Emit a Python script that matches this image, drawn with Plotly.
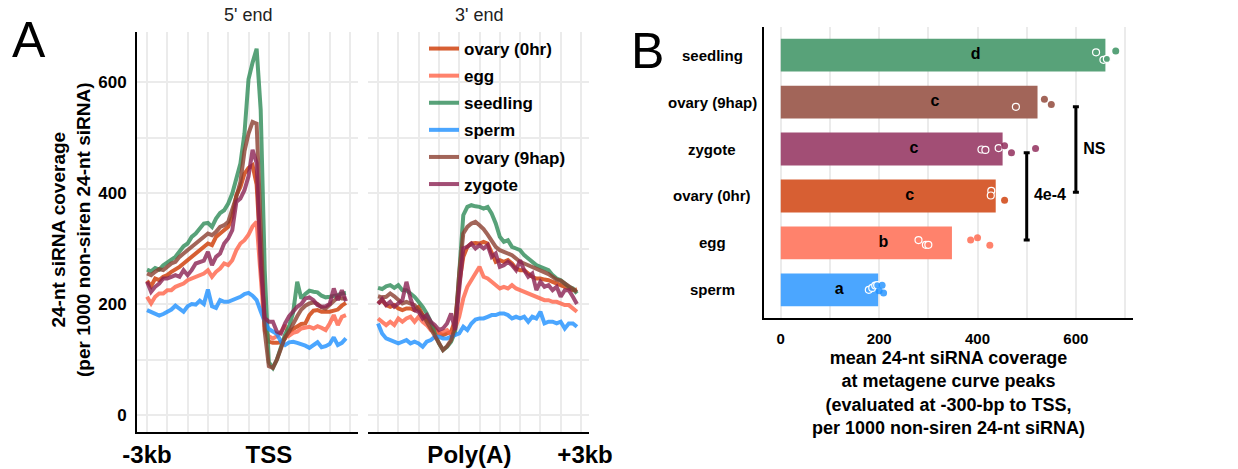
import plotly.graph_objects as go

W, H = 1238, 469
FONT = "Liberation Sans, Arial, sans-serif"

# ---------------- Panel A data ----------------
series_names = ["ovary (0hr)", "egg", "seedling", "sperm", "ovary (9hap)", "zygote"]
series_rgb = [(205, 55, 0), (255, 99, 71), (46, 139, 87), (30, 144, 255), (139, 62, 47), (139, 34, 82)]

pos_5p = list(range(-3000, 2000, 100))   # bp relative to TSS
pos_3p = list(range(-2000, 3000, 100))   # bp relative to Poly(A)

ovary0_5p = [242, 232, 246, 243, 249, 252, 258, 262, 267, 273,
             279, 285, 289, 297, 303, 309, 306, 321, 327, 333,
             339, 357, 396, 411, 435, 445, 450, 415, 290, 160,
             132, 130, 130, 131, 138, 150, 155, 160, 164, 165,
             180, 188, 189, 186, 186, 186, 188, 190, 197, 202]
egg_5p = [213, 201, 213, 219, 219, 225, 225, 231, 234, 237,
          243, 246, 249, 252, 255, 261, 249, 258, 264, 273,
          270, 279, 297, 309, 315, 325, 340, 348, 245, 152,
          142, 138, 142, 150, 162, 143, 148, 150, 156, 158,
          159, 156, 160, 157, 153, 165, 180, 162, 177, 180]
seedling_5p = [262, 259, 265, 262, 270, 274, 280, 285, 294, 304,
               309, 321, 327, 336, 345, 346, 339, 354, 364, 369,
               381, 399, 423, 453, 507, 605, 635, 660, 550, 260,
               95, 85, 100, 122, 145, 160, 185, 240, 210, 218,
               224, 222, 221, 215, 212, 213, 214, 216, 219, 220]
sperm_5p = [189, 186, 183, 179, 182, 186, 190, 197, 192, 186,
            196, 200, 199, 206, 200, 226, 196, 193, 207, 204,
            204, 207, 210, 213, 218, 220, 215, 207, 187, 168,
            155, 150, 146, 132, 126, 131, 132, 130, 128, 125,
            121, 125, 131, 122, 124, 128, 140, 126, 130, 138]
ovary9_5p = [255, 252, 258, 263, 261, 267, 273, 276, 285, 291,
             297, 303, 309, 315, 321, 327, 324, 330, 339, 342,
             348, 369, 393, 420, 475, 507, 528, 525, 335, 150,
             88, 85, 100, 120, 140, 150, 165, 178, 190, 197,
             201, 203, 200, 194, 192, 198, 205, 212, 210, 210]
zygote_5p = [240, 222, 231, 237, 246, 246, 249, 252, 249, 261,
             252, 261, 273, 276, 278, 294, 270, 285, 291, 309,
             318, 333, 384, 390, 405, 430, 478, 454, 270, 175,
             168, 168, 150, 147, 165, 178, 188, 195, 200, 210,
             212, 207, 198, 195, 196, 200, 228, 207, 225, 205]

ovary0_3p = [201, 207, 198, 195, 198, 192, 189, 192, 192, 189,
             195, 180, 171, 165, 156, 147, 144, 147, 150, 171,
             237, 285, 303, 309, 310, 309, 312, 309, 294, 276,
             279, 276, 279, 273, 264, 261, 261, 255, 249, 246,
             246, 244, 243, 240, 237, 234, 231, 228, 225, 226]
egg_3p = [174, 168, 162, 168, 162, 174, 168, 174, 177, 168,
          177, 168, 162, 153, 150, 147, 150, 153, 144, 156,
          177, 210, 231, 243, 258, 267, 249, 246, 240, 234,
          228, 231, 228, 234, 228, 225, 222, 219, 216, 213,
          210, 207, 207, 204, 204, 201, 198, 198, 192, 186]
seedling_3p = [229, 227, 232, 234, 229, 234, 225, 225, 219, 213,
               204, 195, 183, 168, 147, 129, 117, 123, 132, 150,
               255, 360, 375, 378, 376, 375, 372, 375, 363, 345,
               321, 312, 315, 303, 300, 297, 288, 282, 276, 270,
               267, 264, 261, 252, 246, 243, 237, 231, 228, 219]
sperm_3p = [165, 147, 138, 135, 132, 129, 132, 135, 129, 132,
            129, 123, 132, 135, 141, 141, 138, 138, 141, 144,
            147, 159, 153, 165, 172, 174, 174, 177, 180, 180,
            183, 183, 180, 174, 177, 174, 177, 168, 177, 174,
            186, 165, 168, 168, 165, 168, 156, 165, 165, 159]
ovary9_3p = [214, 212, 213, 219, 214, 207, 201, 204, 201, 198,
             189, 180, 168, 156, 141, 129, 117, 124, 135, 159,
             255, 327, 339, 345, 348, 342, 335, 325, 315, 303,
             297, 294, 291, 288, 282, 276, 273, 270, 267, 264,
             261, 258, 254, 249, 244, 242, 237, 231, 226, 222]
zygote_3p = [200, 209, 198, 204, 195, 201, 207, 240, 210, 189,
             186, 174, 180, 168, 162, 153, 156, 165, 183, 153,
             225, 300, 303, 309, 300, 306, 300, 306, 285, 291,
             267, 270, 276, 270, 261, 279, 261, 249, 255, 225,
             240, 231, 234, 225, 231, 213, 225, 225, 213, 200]

curves_5p = [ovary0_5p, egg_5p, seedling_5p, sperm_5p, ovary9_5p, zygote_5p]
curves_3p = [ovary0_3p, egg_3p, seedling_3p, sperm_3p, ovary9_3p, zygote_3p]

ticks_5p = [-3000, 0]
ticklabels_5p = ["-3kb", "TSS"]
ticks_3p = [250, 3100]
ticklabels_3p = ["Poly(A)", "+3kb"]
grid_5p = list(range(-3000, 2001, 500))
grid_3p = list(range(-2000, 3001, 500))

# ---------------- Panel B data ----------------
groups = ["sperm", "egg", "ovary (0hr)", "zygote", "ovary (9hap)", "seedling"]  # bottom -> top
group_rgb = [(30, 144, 255), (255, 99, 71), (205, 55, 0), (139, 34, 82), (139, 62, 47), (46, 139, 87)]
bar_means = [198, 348, 437, 451, 522, 660]
bar_letters = ["a", "b", "c", "c", "c", "d"]

open_vals = [[179, 186, 192, 196], [280, 295, 300], [428, 427], [408, 416, 443], [478], [641, 656, 663]]
open_jit = [[0.0, 0.04, 0.09, 0.1], [0.06, -0.04, -0.04], [0.11, 0.01], [-0.01, -0.02, 0.02], [-0.1], [0.06, -0.1, -0.08]]
fill_vals = [[200, 206, 209], [386, 400, 425], [455], [455, 469, 518], [536, 550], [681]]
fill_jit = [[-0.02, 0.1, -0.07], [0.06, 0.11, -0.05], [-0.09], [0.07, -0.08, 0.01], [0.06, -0.05], [0.09]]

bracket_x = [600, 500]
bracket_lo = [2.08, 1.06]
bracket_hi = [3.90, 2.92]
bracket_labels = ["NS", "4e-4"]


def rgba(c, a):
    return "rgba(%d,%d,%d,%.2f)" % (c[0], c[1], c[2], a)


def blend(c, a=0.8):
    return "rgb(%d,%d,%d)" % tuple(round(a * v + (1 - a) * 255) for v in c)


fig = go.Figure()

for i, name in enumerate(series_names):
    fig.add_trace(go.Scatter(x=pos_5p, y=curves_5p[i], mode="lines", name=name,
                             line=dict(color=rgba(series_rgb[i], 0.8), width=4),
                             legendgroup=name, showlegend=True, xaxis="x", yaxis="y"))
for i, name in enumerate(series_names):
    fig.add_trace(go.Scatter(x=pos_3p, y=curves_3p[i], mode="lines", name=name,
                             line=dict(color=rgba(series_rgb[i], 0.8), width=4),
                             legendgroup=name, showlegend=False, xaxis="x2", yaxis="y2"))

# Panel B bars
fig.add_trace(go.Bar(x=bar_means, y=list(range(len(groups))), orientation="h", width=0.7,
                     marker=dict(color=[blend(c) for c in group_rgb], line=dict(width=0)),
                     showlegend=False, xaxis="x3", yaxis="y3"))
# letters inside bars
fig.add_trace(go.Scatter(x=[0.6 * m for m in bar_means], y=list(range(len(groups))), mode="text",
                         text=["<b>%s</b>" % t for t in bar_letters],
                         textfont=dict(size=16, color="black", family=FONT),
                         showlegend=False, xaxis="x3", yaxis="y3"))
# points
for k in range(len(groups)):
    fig.add_trace(go.Scatter(x=open_vals[k], y=[k + j for j in open_jit[k]], mode="markers",
                             marker=dict(size=7, color=blend(group_rgb[k]), line=dict(color="white", width=1.2)),
                             showlegend=False, xaxis="x3", yaxis="y3"))
    fig.add_trace(go.Scatter(x=fill_vals[k], y=[k + j for j in fill_jit[k]], mode="markers",
                             marker=dict(size=7, color=rgba(group_rgb[k], 0.8), line=dict(width=0)),
                             showlegend=False, xaxis="x3", yaxis="y3"))
# significance brackets
for bx, lo, hi, lab in zip(bracket_x, bracket_lo, bracket_hi, bracket_labels):
    mid = (lo + hi) / 2
    fig.add_trace(go.Scatter(x=[bx], y=[mid], mode="markers", marker=dict(size=1, opacity=0),
                             error_y=dict(type="data", array=[(hi - lo) / 2], symmetric=True,
                                          thickness=3, width=3, color="black"),
                             showlegend=False, xaxis="x3", yaxis="y3"))
    fig.add_trace(go.Scatter(x=[bx], y=[mid], mode="markers+text", text=["<b>%s</b>" % lab],
                             textposition="middle right", marker=dict(size=10, opacity=0),
                             textfont=dict(size=16, color="black", family=FONT),
                             showlegend=False, xaxis="x3", yaxis="y3"))


def px2x(p):
    return p / W


def py2y(p):
    return (H - p) / H


GRID = "#EBEBEB"
yA_dom = [py2y(432), py2y(32)]
yA_range = [-30.6, 690.1]

common_y = dict(range=yA_range, domain=yA_dom, showgrid=True, gridcolor=GRID, gridwidth=1.5,
                tickvals=[0, 200, 400, 600], zeroline=False, automargin=False,
                minor=dict(tickvals=[100, 300, 500], showgrid=True, gridcolor=GRID, gridwidth=1.5))

fig.update_layout(
    width=W, height=H, margin=dict(l=0, r=0, t=0, b=0, pad=0, autoexpand=False),
    paper_bgcolor="white", plot_bgcolor="white",
    font=dict(family=FONT, color="black"),
    xaxis=dict(domain=[px2x(137), px2x(358)], range=[-3247, 2197], anchor="y", automargin=False,
               tickvals=ticks_5p, ticktext=ticklabels_5p, showgrid=True, gridcolor=GRID, gridwidth=1.5,
               minor=dict(tickvals=grid_5p, showgrid=True, gridcolor=GRID, gridwidth=1.5),
               tickfont=dict(size=24, weight="bold", family=FONT, color="black"),
               ticks="", ticklen=0,
               showline=True, linecolor="black", linewidth=2, zeroline=False),
    yaxis=dict(**common_y, anchor="x", showline=True, linecolor="black", linewidth=2,
               tickfont=dict(size=17, weight="bold", family=FONT, color="black"),
               ticks="outside", ticklen=5, tickcolor="rgba(0,0,0,0)"),
    xaxis2=dict(domain=[px2x(368), px2x(589)], range=[-2247, 3197], anchor="y2", automargin=False,
                tickvals=ticks_3p, ticktext=ticklabels_3p, showgrid=False,
                minor=dict(tickvals=grid_3p, showgrid=True, gridcolor=GRID, gridwidth=1.5),
                tickfont=dict(size=24, weight="bold", family=FONT, color="black"),
                ticks="", ticklen=0,
                showline=True, linecolor="black", linewidth=2, zeroline=False),
    yaxis2=dict(**common_y, anchor="x2", showticklabels=False, showline=False),
    xaxis3=dict(domain=[px2x(764), px2x(1133)], range=[-34.1, 716.1], anchor="y3", automargin=False,
                tickvals=[0, 200, 400, 600], showgrid=True, gridcolor=GRID, gridwidth=1.5,
                minor=dict(tickvals=[100, 300, 500, 700], showgrid=True, gridcolor=GRID, gridwidth=1.5),
                tickfont=dict(size=15, weight="bold", family=FONT, color="black"),
                ticks="outside", ticklen=6, tickcolor="rgba(0,0,0,0)",
                showline=True, linecolor="black", linewidth=2, zeroline=False),
    yaxis3=dict(domain=[py2y(318), py2y(27)], range=[-0.6, 5.6], anchor="x3", automargin=False,
                showgrid=False, showticklabels=False, zeroline=False,
                showline=True, linecolor="black", linewidth=2),
    legend=dict(x=px2x(424), y=py2y(31), xanchor="left", yanchor="top",
                bgcolor="rgba(0,0,0,0)", tracegroupgap=2,
                font=dict(size=17, weight="bold", family=FONT, color="black")),
    bargap=0.3,
)

ann = []
ann.append(dict(text="A", x=px2x(29), y=py2y(40), xref="paper", yref="paper", showarrow=False,
                xanchor="center", yanchor="middle", font=dict(size=50, family=FONT, color="black")))
ann.append(dict(text="B", x=px2x(647), y=py2y(51), xref="paper", yref="paper", showarrow=False,
                xanchor="center", yanchor="middle", font=dict(size=50, family=FONT, color="black")))
ann.append(dict(text="5' end", x=px2x(247.5), y=py2y(15), xref="paper", yref="paper", showarrow=False,
                xanchor="center", yanchor="middle", font=dict(size=18, family=FONT, color="#222222")))
ann.append(dict(text="3' end", x=px2x(478.5), y=py2y(15), xref="paper", yref="paper", showarrow=False,
                xanchor="center", yanchor="middle", font=dict(size=18, family=FONT, color="#222222")))
ann.append(dict(text="<b>24-nt siRNA coverage<br>(per 1000 non-siren 24-nt siRNA)</b>",
                x=px2x(71), y=py2y(230), xref="paper", yref="paper", showarrow=False, textangle=-90,
                xanchor="center", yanchor="middle", font=dict(size=19, family=FONT, color="black")))
for k, g in enumerate(groups):
    ann.append(dict(text="<b>%s</b>" % g, x=px2x(712), y=k, xref="paper", yref="y3", showarrow=False,
                    xanchor="center", yanchor="middle", font=dict(size=15, family=FONT, color="black")))
ann.append(dict(text="<b>mean 24-nt siRNA coverage<br>at metagene curve peaks<br>"
                     "(evaluated at -300-bp to TSS,<br>per 1000 non-siren 24-nt siRNA)</b>",
                x=px2x(948), y=py2y(346), xref="paper", yref="paper", showarrow=False,
                xanchor="center", yanchor="top", font=dict(size=18, family=FONT, color="black")))
fig.update_layout(annotations=ann)

fig.write_html("out.html")
